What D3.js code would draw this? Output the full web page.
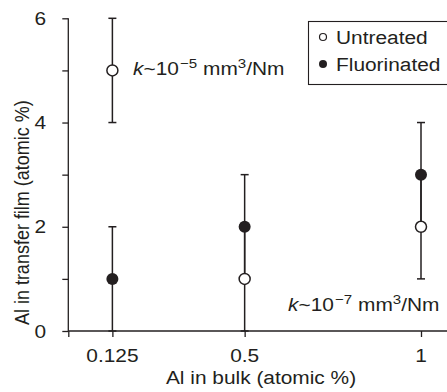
<!DOCTYPE html>
<html><head><meta charset="utf-8">
<script src="https://cdn.jsdelivr.net/npm/d3@7"></script>
<style>
html,body{margin:0;padding:0;background:#fff;}
svg{display:block;font-family:"Liberation Sans",Arial,Helvetica,sans-serif;}
</style></head>
<body>
<svg id="c" width="447" height="392"></svg>
<script>
const bulk = [0.125, 0.5, 1];
const untreated = [5, 1, 2];
const untreatedErr = [1, 1, 1];
const fluorinated = [1, 2, 3];
const fluorinatedErr = [1, 1, 1];
const xTicks = [0, 0.125, 0.5, 1];
const xTickLabels = ["", "0.125", "0.5", "1"];
const yTicks = [0, 1, 2, 3, 4, 5, 6];
const yTickLabels = ["0", "", "2", "", "4", "", "6"];
const seriesNames = ["Untreated", "Fluorinated"];

const ink = "#231f20";
const SX = 1.16; // horizontal stretch of the original
const svg = d3.select("#c");
const x = d3.scaleLinear().domain([0, 1]).range([68.3, 421]);
const y = d3.scaleLinear().domain([0, 6]).range([331, 18.3]);

function stext(g, px, py, anchor, str) {
  return g.append("text")
    .attr("transform", `translate(${px},${py}) scale(${SX},1)`)
    .attr("text-anchor", anchor)
    .attr("fill", ink)
    .attr("font-size", 18)
    .text(str);
}

// axes lines
svg.append("line").attr("x1", x(0)).attr("x2", x(1.12)).attr("y1", y(0)).attr("y2", y(0))
  .attr("stroke", ink).attr("stroke-width", 1.3);
svg.append("line").attr("x1", x(0)).attr("x2", x(0)).attr("y1", y(0)).attr("y2", y(6))
  .attr("stroke", ink).attr("stroke-width", 1.3);

// y ticks
const yAxis = d3.axisLeft(y).tickValues(yTicks).tickSize(6).tickFormat("");
const gy = svg.append("g").attr("transform", `translate(${x(0)},0)`).call(yAxis);
gy.select(".domain").remove();
gy.selectAll(".tick line").attr("stroke", ink).attr("stroke-width", 1.3);
yTicks.forEach((t, i) => {
  if (yTickLabels[i]) stext(svg, 46, y(t) + 6.5, "end", yTickLabels[i]);
});

// x ticks
const xAxis = d3.axisBottom(x).tickValues(xTicks).tickSize(6).tickFormat("");
const gx = svg.append("g").attr("transform", `translate(0,${y(0)})`).call(xAxis);
gx.select(".domain").remove();
gx.selectAll(".tick line").attr("stroke", ink).attr("stroke-width", 1.3);
xTicks.forEach((t, i) => {
  if (xTickLabels[i]) stext(svg, x(t), 362, "middle", xTickLabels[i]);
});

// axis titles
stext(svg, 261, 384, "middle", "Al in bulk (atomic %)");
svg.append("text")
  .attr("transform", `translate(29,${(y(0)+y(6))/2 + 38}) rotate(-90) scale(1,${SX})`)
  .attr("text-anchor", "middle").attr("fill", ink).attr("font-size", 18)
  .text("Al in transfer film (atomic %)");

// error bars
const capW = 4;
function errBars(vals, errs) {
  const g = svg.append("g").attr("stroke", ink).attr("stroke-width", 1.5);
  bulk.forEach((b, i) => {
    const lo = vals[i] - errs[i], hi = vals[i] + errs[i];
    g.append("line").attr("x1", x(b)).attr("x2", x(b)).attr("y1", y(lo)).attr("y2", y(hi));
    g.append("line").attr("x1", x(b) - capW).attr("x2", x(b) + capW).attr("y1", y(hi)).attr("y2", y(hi));
    g.append("line").attr("x1", x(b) - capW).attr("x2", x(b) + capW).attr("y1", y(lo)).attr("y2", y(lo));
  });
}
errBars(untreated, untreatedErr);
errBars(fluorinated, fluorinatedErr);

// points
svg.append("g").selectAll("circle").data(bulk).join("circle")
  .attr("cx", d => x(d)).attr("cy", (d, i) => y(fluorinated[i])).attr("r", 6)
  .attr("fill", ink);
svg.append("g").selectAll("circle").data(bulk).join("circle")
  .attr("cx", d => x(d)).attr("cy", (d, i) => y(untreated[i])).attr("r", 5.5)
  .attr("fill", "#fff").attr("stroke", ink).attr("stroke-width", 1.5);

// annotations
function kText(px, py, exp) {
  const t = svg.append("text")
    .attr("transform", `translate(${px},${py}) scale(${SX},1)`)
    .attr("fill", ink).attr("font-size", 18);
  t.append("tspan").attr("font-style", "italic").text("k");
  t.append("tspan").text("~10");
  t.append("tspan").attr("font-size", 13).attr("dy", -7).attr("dx", 1).text(exp);
  t.append("tspan").attr("dy", 7).text(" mm");
  t.append("tspan").attr("font-size", 13).attr("dy", -7).text("3");
  t.append("tspan").attr("dy", 7).text("/Nm");
}
kText(133, 75, "\u22125");
kText(288, 311, "\u22127");

// legend
svg.append("rect").attr("x", 308.5).attr("y", 21.5).attr("width", 160).attr("height", 63)
  .attr("fill", "#fff").attr("stroke", ink).attr("stroke-width", 1.1);
const legY = [37, 64];
svg.append("circle").attr("cx", 323).attr("cy", legY[0]).attr("r", 3.5)
  .attr("fill", "#fff").attr("stroke", ink).attr("stroke-width", 1.2);
svg.append("circle").attr("cx", 323).attr("cy", legY[1]).attr("r", 4)
  .attr("fill", ink);
stext(svg, 336, legY[0] + 7, "start", seriesNames[0]);
stext(svg, 336, legY[1] + 7, "start", seriesNames[1]);
</script>
</body></html>
